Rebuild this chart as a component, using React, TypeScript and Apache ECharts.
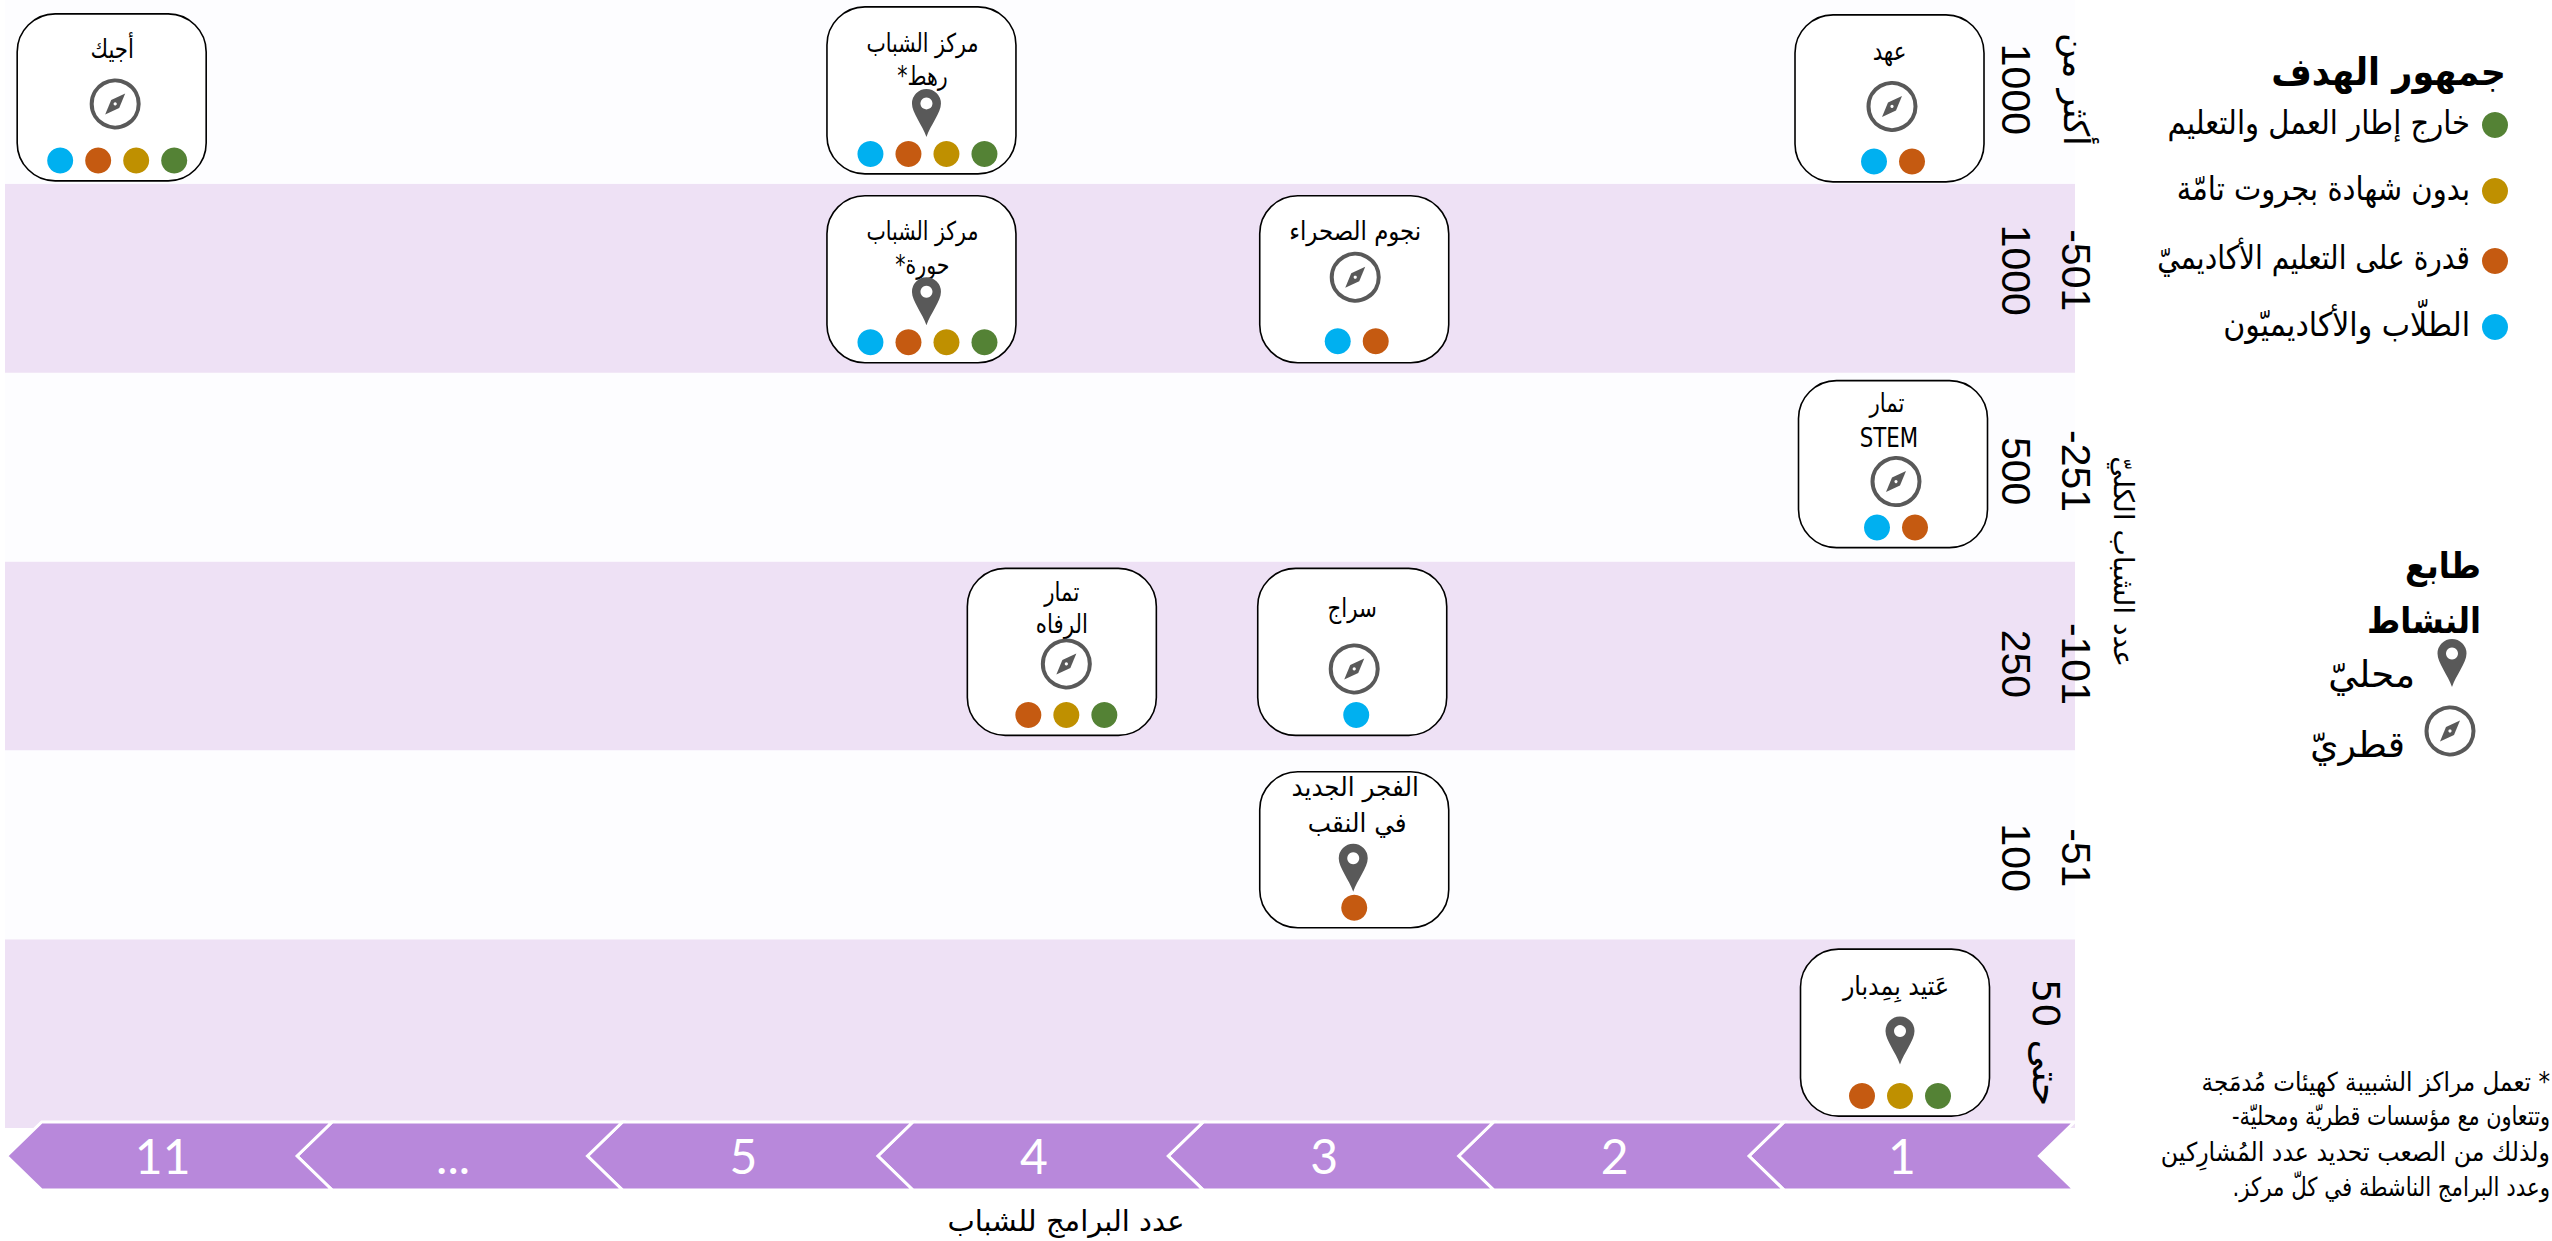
import React, { useEffect, useRef } from "react";
import * as echarts from "echarts";

// ---------- data ----------
const youthBands = ["حتى 50", "-51\n100", "-101\n250", "-251\n500", "-501\n1000", "أكثر من\n1000"];
const programLabels = ["1", "2", "3", "4", "5", "...", "11"];
const audienceLabels = ["خارج إطار العمل والتعليم", "بدون شهادة بجروت تامّة", "قدرة على التعليم الأكاديميّ", "الطلّاب والأكاديميّون"];
const centerNames = ["أجيك", "مركز الشباب\nرهط*", "مركز الشباب\nحورة*", "نجوم الصحراء", "تمار\nالرفاه", "سراج", "الفجر الجديد\nفي النقب", "عهد", "تمار\nSTEM", "عَتيد بِمِدبار"];
const centerPrograms = ["11", "5", "5", "3", "4", "3", "3", "1", "1", "1"];
const centerBands = [5, 5, 4, 4, 2, 2, 1, 5, 3, 0];
const centerAudiences = [[3, 2, 1, 0], [3, 2, 1, 0], [3, 2, 1, 0], [3, 2], [2, 1, 0], [3], [2], [3, 2], [3, 2], [2, 1, 0]];
const centerLocal = [false, true, true, false, false, false, true, false, false, true];
const footnoteLines = ["* تعمل مراكز الشبيبة كهيئات مُدمَجة", "وتتعاون مع مؤسسات قطريّة ومحليّة-", "ولذلك من الصعب تحديد عدد المُشارِكين", "وعدد البرامج الناشطة في كلّ مركز."];

// ---------- layout & style ----------
const AUD_COLORS = ["#548235", "#BF9000", "#C55A11", "#00B0F0"];
const ICON = "#595959";
const AR = '"DejaVu Sans"';
// card placement relative to its axis anchor, and contents relative to the card
const cardLayout = [
  { dx: -51, dy: 8, h: 167, ts: 0.82, tx: [0.5], ty: [-48.5], ix: 3.5, iy: 6.5, px: 5.5, py: 63 },
  { dx: 178, dy: 1, h: 167, ts: 0.79, tx: [1, 1], ty: [-47.5, -14.5], ix: 5, iy: 22.5, px: 6, py: 63.5 },
  { dx: 178, dy: 1, h: 167, ts: 0.79, tx: [1, 1], ty: [-48, -14], ix: 5, iy: 22, px: 6, py: 63 },
  { dx: 30, dy: 1, h: 167, ts: 0.88, tx: [1], ty: [-48], ix: 1, iy: -2, px: 2.5, py: 62 },
  { dx: 28, dy: -4, h: 167, ts: 0.82, tx: [0, 0], ty: [-60, -28], ix: 4.5, iy: 12, px: 4.5, py: 63 },
  { dx: 28, dy: -4, h: 167, ts: 0.82, tx: [0], ty: [-44], ix: 2, iy: 17, px: 4, py: 63 },
  { dx: 30, dy: 5, h: 156, ts: 0.95, tx: [1, 3], ty: [-63, -27], ix: -1, iy: 18, px: 0, py: 58 },
  { dx: -15.5, dy: 9, h: 167, ts: 0.82, tx: [0], ty: [-47], ix: 2.5, iy: 8, px: 3.5, py: 63 },
  { dx: -12, dy: -3, h: 167, ts: 0.82, tx: [-6, -4], ty: [-60.5, -25.5], ix: 3, iy: 17.5, px: 3, py: 63.5 },
  { dx: -10, dy: -1, h: 167, ts: 0.91, tx: [1], ty: [-46.5], ix: 5, iy: 8, px: 5, py: 63.5 },
];

echarts.graphic.registerShape(
  "pin",
  echarts.graphic.extendPath("M0 24 C-4 12 -14.5 0 -14.5 -9.5 A14.5 14.5 0 1 1 14.5 -9.5 C14.5 0 4 12 0 24 Z", {})
);

const rtl = (s: string) => (/[\u0600-\u06FF]/.test(s) && /[*.\-]/.test(s) ? "\u200F" + s + "\u200F" : s);

const pinIcon = (x: number, y: number) => ({
  type: "group",
  x,
  y,
  silent: true,
  children: [
    { type: "pin", style: { fill: ICON } },
    { type: "circle", shape: { cx: 0, cy: -9.5, r: 6 }, style: { fill: "#fff" } },
  ],
});
const compassIcon = (x: number, y: number) => ({
  type: "group",
  x,
  y,
  silent: true,
  children: [
    { type: "circle", shape: { cx: 0, cy: 0, r: 23.5 }, style: { fill: "none", stroke: ICON, lineWidth: 4 } },
    { type: "polygon", shape: { points: [[10, -10.5], [4, 4], [-10, 10.5], [-4, -4]] }, style: { fill: ICON } },
    { type: "circle", shape: { cx: 0, cy: 0, r: 1.6 }, style: { fill: "#fff" } },
  ],
});
const txt = (text: string, x: number, y: number, size: number, align = "right", weight = "normal", scaleX = 1) => ({
  type: "text",
  x,
  y,
  scaleX,
  silent: true,
  style: { text: rtl(text), fontSize: size, fontFamily: AR, fontWeight: weight, fill: "#000", align, verticalAlign: "middle" },
});

const renderCard = (params: any, api: any) => {
  const i = params.dataIndex;
  const L = cardLayout[i];
  const p = api.coord([api.value(0), api.value(1)]);
  const cx = p[0] + L.dx;
  const cy = p[1] + L.dy;
  const children: any[] = [
    { type: "rect", shape: { x: cx - 94.5, y: cy - L.h / 2, width: 189, height: L.h, r: 38 }, style: { fill: "#fff", stroke: "#000", lineWidth: 1.6 } },
  ];
  centerNames[i].split("\n").forEach((line, k) => {
    children.push(txt(line, cx + L.tx[k], cy + L.ty[k], 26, "center", "normal", L.ts));
  });
  children.push(centerLocal[i] ? pinIcon(cx + L.ix, cy + L.iy) : compassIcon(cx + L.ix, cy + L.iy));
  const aud = centerAudiences[i];
  aud.forEach((a, k) => {
    children.push({
      type: "circle",
      shape: { cx: cx + L.px + (k - (aud.length - 1) / 2) * 38, cy: cy + L.py, r: 13 },
      style: { fill: AUD_COLORS[a] },
    });
  });
  return { type: "group", children };
};

const renderRibbon = (params: any, api: any) => {
  const p = api.coord([api.value(0), 0]);
  const cx = p[0];
  const bottom = params.coordSys.y + params.coordSys.height;
  const top = bottom - 6;
  const bot = bottom + 62;
  const mid = (top + bot) / 2;
  const label = programLabels[params.dataIndex];
  return {
    type: "group",
    children: [
      {
        type: "polygon",
        shape: { points: [[cx - 156, mid], [cx - 121, top], [cx + 169.4, top], [cx + 134.4, mid], [cx + 169.4, bot], [cx - 121, bot]] },
        style: { fill: "#B888DB", stroke: "#fff", lineWidth: 3 },
      },
      {
        type: "text",
        x: cx - (label === "1" ? 3 : 0),
        y: mid - 1,
        style: { text: label, fontSize: 48, fontFamily: "Lato", fill: "#fff", align: "center", verticalAlign: "middle" },
      },
    ],
  };
};

const rowRich: Record<string, any> = {};
const rowPadding = [[0, 0, 0, 18], [0, 0, 0, 26], [0, 0, 0, 16], [0, 0, 0, 8], [0, 16, 0, 0], [0, 0, 0, 0]];
rowPadding.forEach((padding, i) => {
  rowRich["r" + i] = { fontFamily: '"Liberation Sans"', fontSize: 41, lineHeight: 60, padding, color: "#000" };
  rowRich["a" + i] = { fontFamily: AR, fontSize: i === 0 ? 38 : 35, lineHeight: 60, padding, color: "#000" };
});
const footnoteScale = [0.89, 0.8, 0.91, 0.82];

export default function App() {
  const ref = useRef<HTMLDivElement>(null);
  useEffect(() => {
    const chart = echarts.init(ref.current!, undefined, { renderer: "svg" });
    const graphic: any[] = [
      txt("جمهور الهدف", 2506, 72, 38, "right", "bold", 0.92),
      ...audienceLabels.flatMap((label, i) => {
        const y = [125, 191, 261, 327][i];
        const sx = [0.88, 0.88, 0.85, 0.91][i];
        return [
          { type: "circle", silent: true, shape: { cx: 2495, cy: y, r: 13 }, style: { fill: AUD_COLORS[i] } },
          txt(label, 2470, y - 3, 33, "right", "normal", sx),
        ];
      }),
      txt("طابع", 2481, 565, 36, "right", "bold", 0.89),
      txt("النشاط", 2481, 620, 36, "right", "bold", 0.89),
      pinIcon(2452, 663),
      txt("محليّ", 2415, 674, 37),
      compassIcon(2450, 731),
      txt("قطريّ", 2405, 744, 36),
      ...footnoteLines.map((l, i) => txt(l, 2550, [1082, 1116, 1152, 1187][i], 26, "right", "normal", footnoteScale[i])),
    ];
    chart.setOption({
      animation: false,
      backgroundColor: "#fff",
      grid: { left: 5, right: 477, top: -5, bottom: 1241 - 1128, outerBoundsMode: "none" },
      xAxis: {
        type: "value",
        inverse: true,
        min: 0.4146,
        max: 7.543,
        axisLine: { show: false },
        axisTick: { show: false },
        axisLabel: { show: false },
        splitLine: { show: false },
        name: "عدد البرامج للشباب",
        nameLocation: "middle",
        nameGap: 78,
        nameTextStyle: { fontFamily: AR, fontSize: 29, color: "#000", padding: [0, 0, 0, 52] },
      },
      yAxis: {
        type: "category",
        position: "right",
        data: youthBands,
        axisLine: { show: false },
        axisTick: { show: false },
        splitLine: { show: false },
        splitArea: { show: true, areaStyle: { color: ["#EEE1F5", "#FDFDFF"] } },
        axisLabel: {
          interval: 0,
          rotate: -90,
          margin: -29,
          align: "center",
          verticalAlign: "middle",
          formatter: (value: string, idx: number) =>
            value
              .split("\n")
              .map((line) => `{${/[\u0600-\u06FF]/.test(line) ? "a" : "r"}${idx}|${line}}`)
              .join("\n"),
          rich: rowRich,
        },
        name: "عدد الشباب الكليّ",
        nameLocation: "middle",
        nameRotate: -90,
        nameGap: 34,
        nameTextStyle: { fontFamily: AR, fontSize: 28, color: "#000" },
      },
      graphic,
      series: [
        {
          type: "custom",
          name: "programs",
          silent: true,
          renderItem: renderRibbon,
          encode: { x: 0, y: 1 },
          data: programLabels.map((_, i) => [i + 1, 0]),
        },
        {
          type: "custom",
          name: "centers",
          silent: true,
          renderItem: renderCard,
          encode: { x: 0, y: 1 },
          data: centerNames.map((_, i) => [programLabels.indexOf(centerPrograms[i]) + 1, centerBands[i]]),
        },
      ],
    });
    return () => chart.dispose();
  }, []);
  return <div ref={ref} style={{ position: "absolute", left: 0, top: 0, width: 2552, height: 1241, background: "#fff" }} />;
}
